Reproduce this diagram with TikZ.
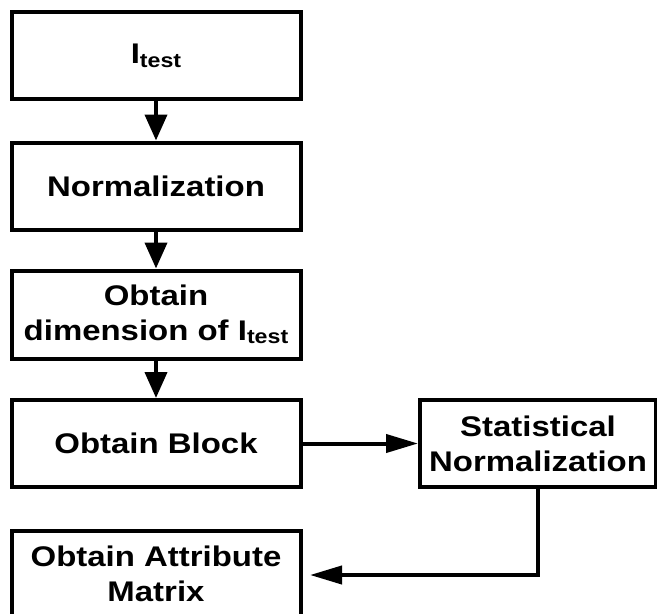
\documentclass[tikz,border=0pt]{standalone}
\usepackage{fontspec}
\setmainfont{Liberation Sans}[FakeStretch=1.16]
\usetikzlibrary{arrows.meta}
\newcommand{\itest}{I\raisebox{-3.5pt}{\fontsize{20}{20}\selectfont test}}
\begin{document}
\begin{tikzpicture}[x=1pt,y=-1pt,
  box/.style={draw=black,line width=4pt,fill=white,inner sep=0pt,
    align=center,font=\bfseries\fontsize{28.4}{35}\selectfont},
  leftbox/.style={box,minimum width=289pt,minimum height=87pt},
  link/.style={line width=4pt},
  varrow/.style={link,-{Triangle[length=26pt,width=22pt]}},
  harrow/.style={link,-{Triangle[length=32pt,width=18pt]}}]
  \useasboundingbox (0,0) rectangle (657,614);
  \clip (0,0) rectangle (657,614);
  % main column
  \node[leftbox] (input) at (156,55.7) {\itest};
  \node[leftbox] (norm) at (156,186) {Normalization};
  \node[leftbox,minimum height=88pt] (dim) at (156,314.5) {Obtain\\dimension of \itest};
  \node[leftbox] (block) at (156,443.5) {Obtain Block};
  \node[leftbox] (attr) at (156,574) {Obtain Attribute\\Matrix};
  % side branch
  \node[box,minimum width=236pt,minimum height=87pt] (stat) at (538,443.5) {Statistical\\Normalization};
  \coordinate (attrin) at (310,575);
  % connectors
  \draw[varrow] (input) -- (norm);
  \draw[varrow] (norm) -- (dim);
  \draw[varrow] (dim) -- (block);
  \draw[harrow] (block) -- (stat);
  \draw[harrow] (stat.south) |- (attrin);
\end{tikzpicture}
\end{document}
